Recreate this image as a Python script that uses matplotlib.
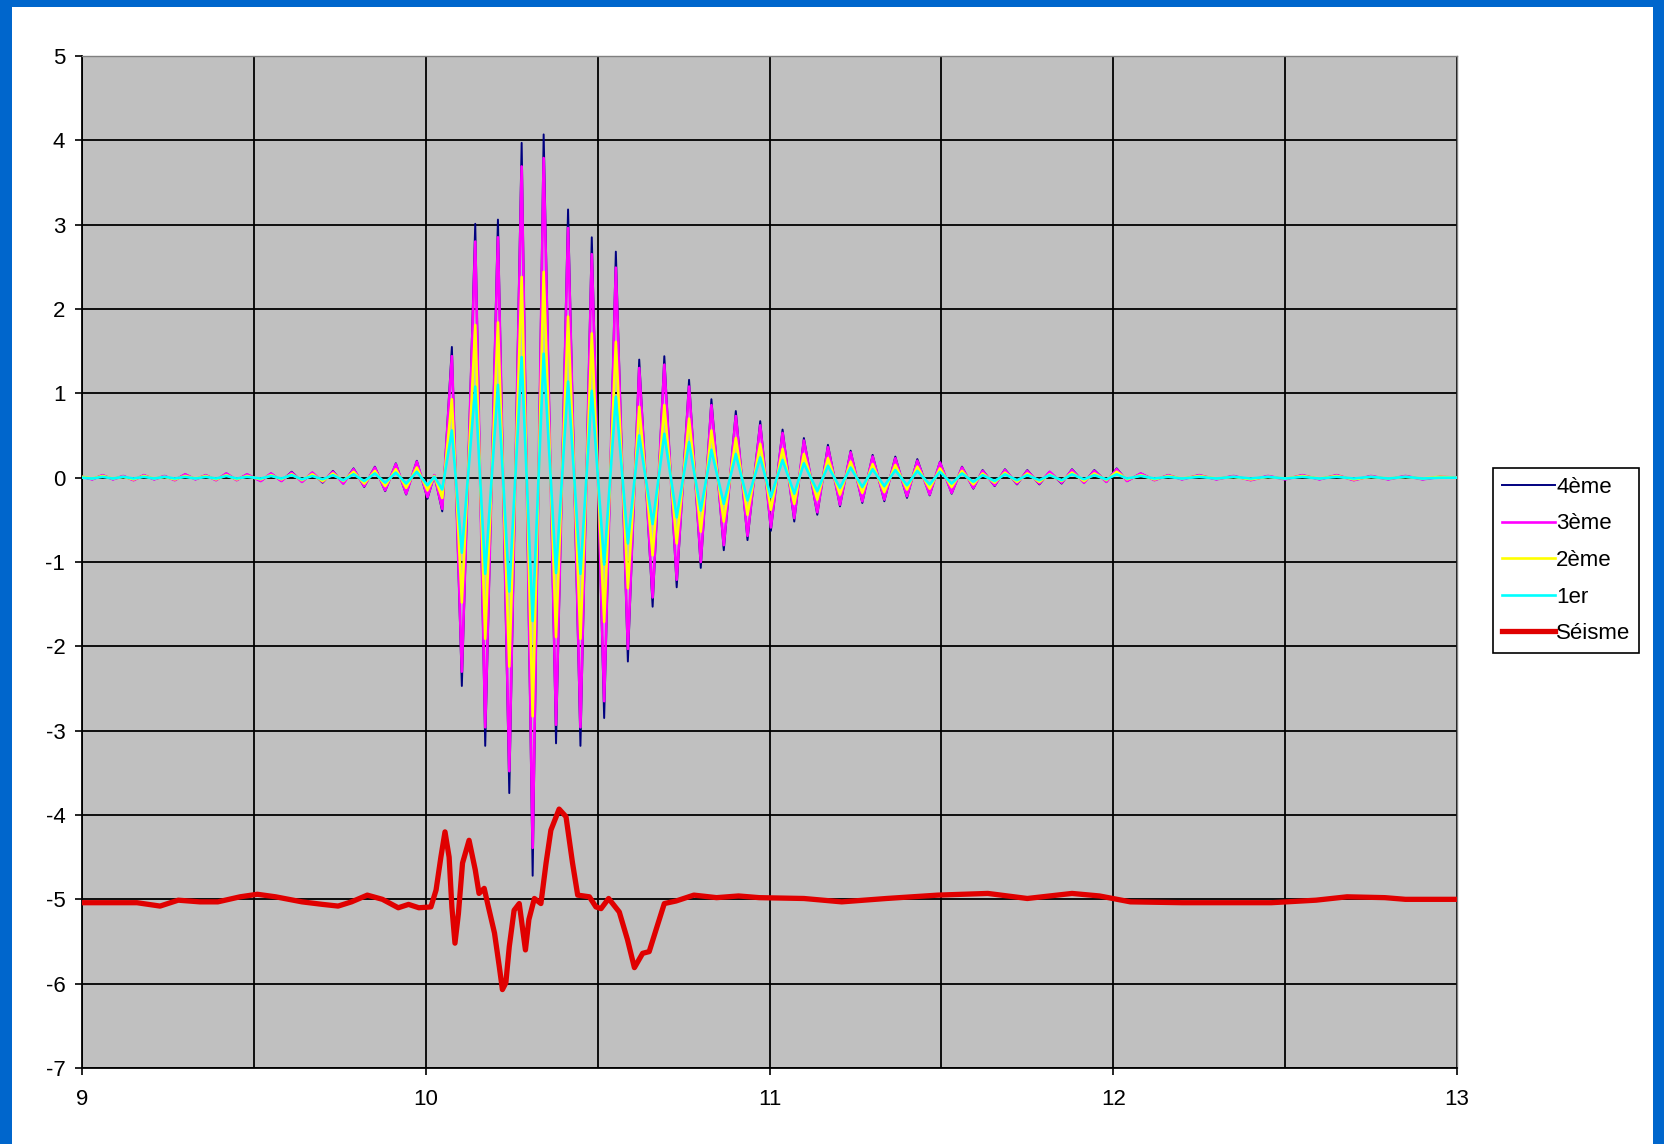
import matplotlib.pyplot as plt
from matplotlib.patches import Rectangle

# temps des extrema (s) - partagé par les 4 étages
t_etage = [
    # avant le séisme
    9.00, 9.03, 9.06, 9.09, 9.12, 9.15, 9.18, 9.21, 9.24, 9.27, 9.30, 9.33,
    9.36, 9.39, 9.42, 9.45, 9.48, 9.52, 9.55, 9.58, 9.61, 9.64, 9.67, 9.70,
    9.73, 9.76, 9.79, 9.821, 9.852, 9.882, 9.913, 9.943, 9.974, 10.005, 10.025,
    # séisme
    10.048, 10.076, 10.105, 10.144, 10.173, 10.21, 10.243, 10.279, 10.311, 10.343,
    10.379, 10.414, 10.45, 10.483, 10.519, 10.553, 10.588, 10.621, 10.66, 10.694,
    10.73, 10.766, 10.80, 10.831, 10.867, 10.902, 10.936, 10.973, 11.004, 11.038,
    11.072, 11.10, 11.139, 11.17, 11.205, 11.236, 11.27, 11.30, 11.334, 11.366,
    11.40, 11.43, 11.466, 11.496, 11.53, 11.56, 11.593, 11.62,
    # après
    11.655, 11.685, 11.72, 11.75, 11.785, 11.815, 11.85, 11.88, 11.915, 11.945,
    11.98, 12.01, 12.04, 12.08, 12.12, 12.16, 12.20, 12.25, 12.30, 12.35,
    12.40, 12.45, 12.50, 12.55, 12.60, 12.65, 12.70, 12.75, 12.80, 12.85,
    12.90, 12.95, 13.00,
]

etage4 = [
    0.01, -0.02, 0.03, -0.02, 0.02, -0.03, 0.03, -0.02, 0.02, -0.03, 0.04, -0.02,
    0.03, -0.03, 0.05, -0.03, 0.04, -0.04, 0.05, -0.04, 0.07, -0.05, 0.06, -0.06,
    0.08, -0.07, 0.11, -0.11, 0.13, -0.16, 0.17, -0.20, 0.20, -0.25, 0.03,
    -0.40, 1.55, -2.47, 3.01, -3.18, 3.06, -3.74, 3.97, -4.72, 4.07,
    -3.15, 3.18, -3.18, 2.85, -2.85, 2.68, -2.18, 1.40, -1.53, 1.44,
    -1.30, 1.16, -1.07, 0.93, -0.86, 0.79, -0.74, 0.67, -0.63, 0.57,
    -0.52, 0.47, -0.44, 0.39, -0.34, 0.32, -0.30, 0.27, -0.28, 0.25,
    -0.24, 0.22, -0.21, 0.19, -0.19, 0.13, -0.13, 0.09,
    -0.10, 0.10, -0.08, 0.09, -0.08, 0.07, -0.07, 0.10, -0.06, 0.09,
    -0.05, 0.11, -0.04, 0.05, -0.03, 0.03, -0.02, 0.03, -0.02, 0.02,
    -0.03, 0.02, -0.02, 0.03, -0.02, 0.03, -0.03, 0.02, -0.02, 0.02,
    -0.02, 0.01, 0.00,
]

etage3 = [
    0.01, -0.02, 0.03, -0.02, 0.02, -0.03, 0.03, -0.02, 0.02, -0.03, 0.04, -0.02,
    0.03, -0.03, 0.05, -0.03, 0.04, -0.04, 0.05, -0.04, 0.06, -0.05, 0.06, -0.05,
    0.07, -0.07, 0.10, -0.10, 0.12, -0.15, 0.16, -0.19, 0.19, -0.23, 0.03,
    -0.37, 1.44, -2.30, 2.80, -2.96, 2.85, -3.48, 3.69, -4.39, 3.79,
    -2.93, 2.96, -2.96, 2.65, -2.65, 2.49, -2.03, 1.30, -1.42, 1.34,
    -1.21, 1.08, -1.00, 0.86, -0.80, 0.73, -0.69, 0.62, -0.59, 0.53,
    -0.48, 0.44, -0.41, 0.36, -0.32, 0.30, -0.28, 0.25, -0.26, 0.23,
    -0.22, 0.20, -0.20, 0.18, -0.18, 0.12, -0.12, 0.08,
    -0.09, 0.09, -0.07, 0.08, -0.07, 0.07, -0.06, 0.09, -0.06, 0.08,
    -0.05, 0.10, -0.04, 0.05, -0.03, 0.03, -0.02, 0.03, -0.02, 0.02,
    -0.03, 0.02, -0.02, 0.03, -0.02, 0.03, -0.03, 0.02, -0.02, 0.02,
    -0.02, 0.01, 0.00,
]

etage2 = [
    0.01, -0.01, 0.02, -0.01, 0.01, -0.02, 0.02, -0.01, 0.01, -0.02, 0.02, -0.01,
    0.02, -0.02, 0.03, -0.02, 0.02, -0.02, 0.03, -0.02, 0.04, -0.03, 0.04, -0.04,
    0.05, -0.04, 0.07, -0.07, 0.08, -0.10, 0.10, -0.12, 0.12, -0.15, 0.02,
    -0.24, 0.93, -1.48, 1.81, -1.91, 1.84, -2.24, 2.38, -2.83, 2.44,
    -1.89, 1.91, -1.91, 1.71, -1.71, 1.61, -1.31, 0.84, -0.92, 0.86,
    -0.78, 0.70, -0.64, 0.56, -0.52, 0.47, -0.44, 0.40, -0.38, 0.34,
    -0.31, 0.28, -0.26, 0.23, -0.20, 0.19, -0.18, 0.16, -0.17, 0.15,
    -0.14, 0.13, -0.13, 0.11, -0.11, 0.08, -0.08, 0.05,
    -0.06, 0.06, -0.05, 0.05, -0.05, 0.04, -0.04, 0.06, -0.04, 0.05,
    -0.03, 0.07, -0.02, 0.03, -0.02, 0.02, -0.01, 0.02, -0.01, 0.01,
    -0.02, 0.01, -0.01, 0.02, -0.01, 0.02, -0.02, 0.01, -0.01, 0.01,
    -0.01, 0.01, 0.00,
]

etage1 = [
    0.00, -0.01, 0.01, -0.01, 0.01, -0.01, 0.01, -0.01, 0.01, -0.01, 0.01, -0.01,
    0.01, -0.01, 0.02, -0.01, 0.01, -0.01, 0.02, -0.01, 0.03, -0.02, 0.02, -0.02,
    0.03, -0.03, 0.04, -0.04, 0.05, -0.06, 0.06, -0.07, 0.07, -0.09, 0.01,
    -0.14, 0.56, -0.89, 1.08, -1.14, 1.10, -1.35, 1.43, -1.70, 1.47,
    -1.13, 1.14, -1.14, 1.03, -1.03, 0.96, -0.78, 0.50, -0.55, 0.52,
    -0.47, 0.42, -0.39, 0.33, -0.31, 0.28, -0.27, 0.24, -0.23, 0.21,
    -0.19, 0.17, -0.16, 0.14, -0.12, 0.12, -0.11, 0.10, -0.10, 0.09,
    -0.09, 0.08, -0.08, 0.07, -0.07, 0.05, -0.05, 0.03,
    -0.04, 0.04, -0.03, 0.03, -0.03, 0.03, -0.03, 0.04, -0.02, 0.03,
    -0.02, 0.04, -0.01, 0.02, -0.01, 0.01, -0.01, 0.01, -0.01, 0.01,
    -0.01, 0.01, -0.01, 0.01, -0.01, 0.01, -0.01, 0.01, -0.01, 0.01,
    -0.01, 0.00, 0.00,
]

# séisme (décalé de -5)
t_seisme = [
    9.00, 9.16, 9.227, 9.28, 9.343, 9.395, 9.46, 9.51, 9.563, 9.64, 9.70, 9.745,
    9.784, 9.83, 9.874, 9.92, 9.95, 9.98, 10.015, 10.03, 10.044, 10.056, 10.068,
    10.076, 10.085, 10.095, 10.107, 10.126, 10.144, 10.155, 10.17, 10.18, 10.20,
    10.214, 10.223, 10.233, 10.243, 10.257, 10.272, 10.29, 10.30, 10.316, 10.335,
    10.35, 10.364, 10.388, 10.408, 10.427, 10.442, 10.476, 10.495, 10.51, 10.532,
    10.563, 10.587, 10.607, 10.631, 10.65, 10.67, 10.694, 10.728, 10.78, 10.846,
    10.91, 10.97, 11.10, 11.21, 11.34, 11.49, 11.635, 11.75, 11.88, 11.96,
    12.05, 12.20, 12.46, 12.59, 12.68, 12.79, 12.85, 13.00,
]
seisme = [
    -5.04, -5.04, -5.08, -5.01, -5.03, -5.03, -4.97, -4.94, -4.97, -5.03, -5.06, -5.08,
    -5.03, -4.95, -5.00, -5.10, -5.06, -5.10, -5.09, -4.89, -4.50, -4.20, -4.50,
    -5.09, -5.52, -5.17, -4.57, -4.30, -4.65, -4.93, -4.87, -5.05, -5.40,
    -5.80, -6.07, -5.99, -5.56, -5.13, -5.05, -5.60, -5.24, -4.99, -5.05,
    -4.57, -4.18, -3.93, -4.02, -4.57, -4.95, -4.97, -5.09, -5.11, -4.99,
    -5.15, -5.48, -5.81, -5.64, -5.62, -5.36, -5.05, -5.02, -4.95, -4.98,
    -4.96, -4.98, -4.99, -5.03, -4.99, -4.95, -4.93, -4.99, -4.93, -4.96,
    -5.03, -5.04, -5.04, -5.01, -4.97, -4.98, -5.00, -5.00,
]

plt.rcParams['font.family'] = ['Liberation Sans', 'DejaVu Sans']
plt.rcParams['axes.unicode_minus'] = False  # tiret simple comme dans Excel

fig = plt.figure(figsize=(16.65, 11.44), dpi=100, facecolor='#0066CC')
# fond blanc a l'interieur du cadre bleu (sous les axes)
fig.patches.append(Rectangle((12 / 1665, 0), 1641 / 1665, 1137 / 1144,
                             transform=fig.transFigure, facecolor='white',
                             edgecolor='none', zorder=-10))

ax = fig.add_axes([82 / 1665, 76 / 1144, 1375 / 1665, 1012 / 1144])
ax.set_facecolor('#C0C0C0')

ax.plot(t_etage, etage4, color='#000080', lw=1.4, label='4ème', zorder=3)
ax.plot(t_etage, etage3, color='#FF00FF', lw=1.9, label='3ème', zorder=4)
ax.plot(t_etage, etage2, color='#FFFF00', lw=1.9, label='2ème', zorder=5)
ax.plot(t_etage, etage1, color='#00FFFF', lw=1.9, label='1er', zorder=6)
ax.plot(t_seisme, seisme, color='#E00000', lw=3.8, label='Séisme', zorder=7)

ax.set_xlim(9, 13)
ax.set_ylim(-7, 5)
ax.set_xticks([9, 10, 11, 12, 13])
ax.set_xticks([9.5, 10.5, 11.5, 12.5], minor=True)
ax.set_yticks(range(-7, 6))

ax.grid(True, which='both', color='black', lw=1.3, zorder=1)
ax.set_axisbelow(True)
ax.tick_params(which='major', direction='out', length=5, width=1.2,
               labelsize=16)
ax.tick_params(axis='x', which='major', pad=10)
ax.tick_params(axis='y', which='major', pad=7)
ax.tick_params(which='minor', length=0)

for s in ['left', 'bottom']:
    ax.spines[s].set_color('black')
    ax.spines[s].set_linewidth(1.3)
for s in ['top', 'right']:
    ax.spines[s].set_color('#808080')
    ax.spines[s].set_linewidth(1.0)

leg = ax.legend(loc='upper left', bbox_to_anchor=(1493 / 1665, 676 / 1144),
                bbox_transform=fig.transFigure, borderaxespad=0,
                fancybox=False, framealpha=1, edgecolor='black',
                fontsize=16, handlelength=2.4, handletextpad=0.05,
                labelspacing=0.7, borderpad=0.4)
leg.get_frame().set_linewidth(1.2)

fig.savefig('out.png', dpi=100, facecolor=fig.get_facecolor())
